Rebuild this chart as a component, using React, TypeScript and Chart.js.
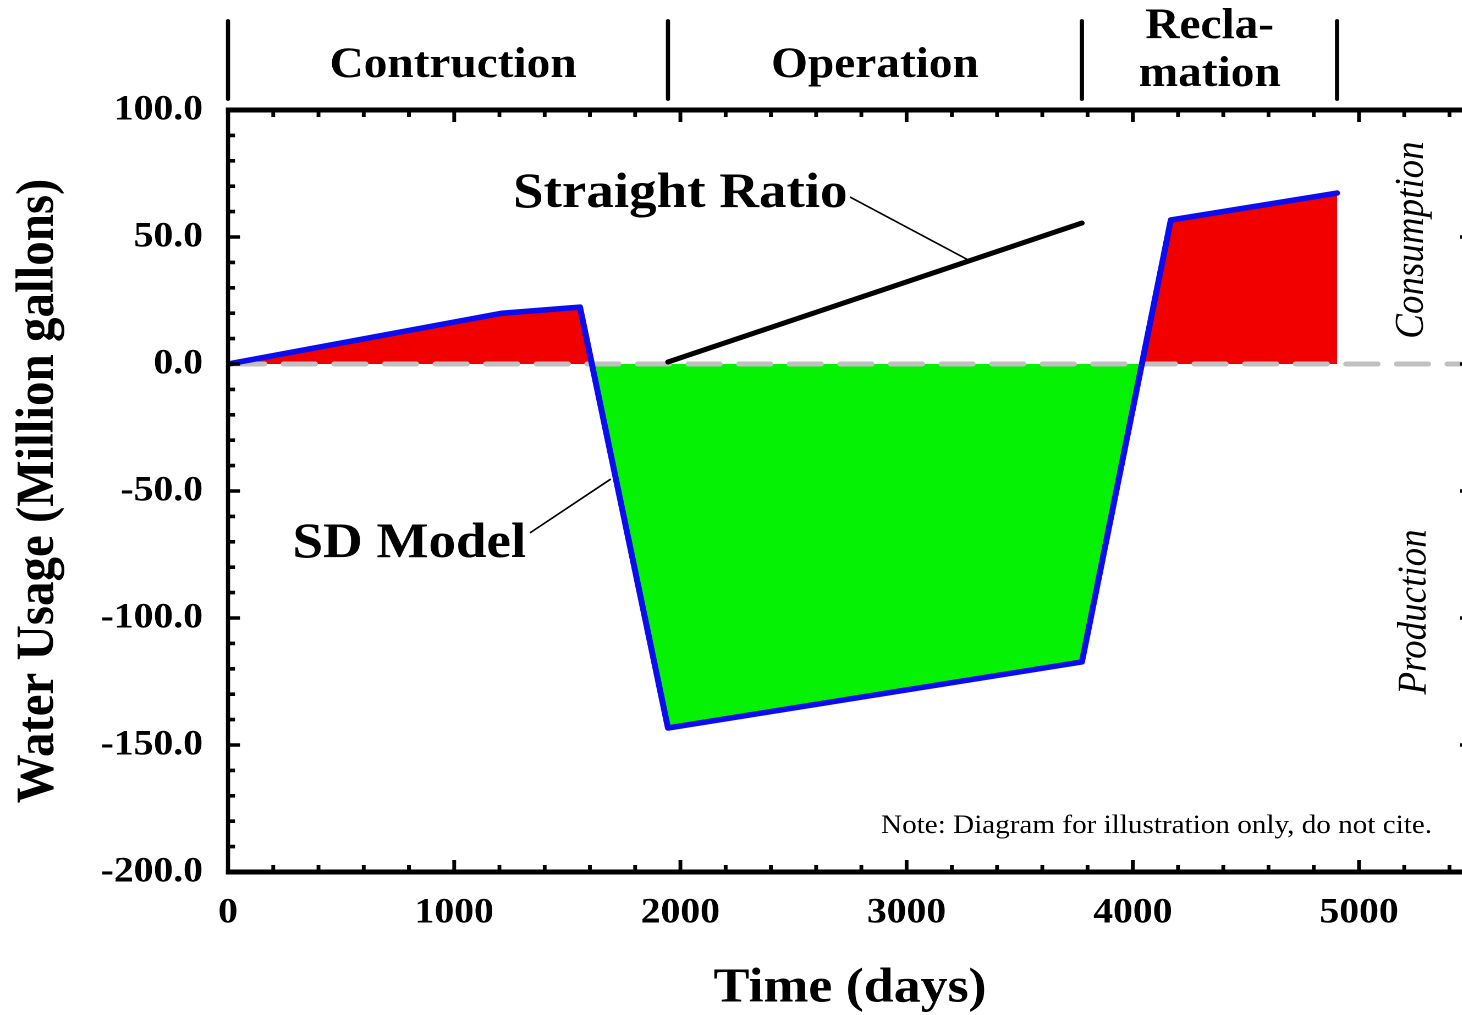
import React, { useEffect, useRef } from "react";
import { Chart, registerables } from "chart.js";

Chart.register(...registerables);

// ---------- data ----------
const sdDays = [0, 1211, 1556, 1945, 3775, 4168, 4903];
const sdUsage = [0, 20.0, 22.4, -143.3, -117.3, 56.7, 67.3];
const ratioDays = [1945, 3775];
const ratioUsage = [0.8, 55.5];
const zeroDays = [0, 5500];
const zeroUsage = [0, 0];
const xTickValues = [0, 1000, 2000, 3000, 4000, 5000];
const yTickValues = [-200, -150, -100, -50, 0, 50, 100];
const phaseBounds = [0, 1945, 3775, 4903];
const phaseCenters = [995, 2860, 4340];
const phaseLabels = [["Contruction"], ["Operation"], ["Recla-", "mation"]];

// ---------- layout (logical px; canvas is stretched horizontally by S) ----------
const S = 1.1;
const LW = 1370;
const LH = 1015;
const PLOT_LEFT = 228 / S;
const PLOT_RIGHT = (228 + 0.2262 * 5500) / S;
const FONT = '"Liberation Serif", "Times New Roman", serif';

const decorPlugin = {
  id: "decor",
  afterDraw(chart: any) {
    const { ctx, chartArea: ca, scales } = chart;
    const xs = scales.x;
    const ys = scales.y;
    const px = (v: number) => xs.getPixelForValue(v);
    const py = (v: number) => ys.getPixelForValue(v);
    const vW = 4.2 / S; // width of vertical strokes
    ctx.save();
    ctx.strokeStyle = "#000";
    ctx.fillStyle = "#000";

    // frame
    ctx.lineCap = "butt";
    ctx.lineWidth = 5;
    ctx.beginPath();
    ctx.moveTo(ca.left - vW / 2, ca.top);
    ctx.lineTo(ca.right + vW / 2, ca.top);
    ctx.moveTo(ca.left - vW / 2, ca.bottom);
    ctx.lineTo(ca.right + vW / 2, ca.bottom);
    ctx.stroke();
    ctx.lineWidth = vW;
    ctx.beginPath();
    ctx.moveTo(ca.left, ca.top - 2.5);
    ctx.lineTo(ca.left, ca.bottom + 2.5);
    ctx.moveTo(ca.right, ca.top - 2.5);
    ctx.lineTo(ca.right, ca.bottom + 2.5);
    ctx.stroke();

    // x ticks (top & bottom, inward)
    ctx.lineWidth = 3.8 / S;
    ctx.beginPath();
    for (let v = 0; v <= 5500; v += 200) {
      const major = v % 1000 === 0;
      const len = major ? 12 : 7;
      const x = px(v);
      ctx.moveTo(x, ca.bottom);
      ctx.lineTo(x, ca.bottom - len);
      ctx.moveTo(x, ca.top);
      ctx.lineTo(x, ca.top + len);
    }
    ctx.stroke();
    // y ticks (left & right, inward)
    ctx.lineWidth = 3.6;
    ctx.beginPath();
    for (let v = -200; v <= 100; v += 10) {
      const major = v % 50 === 0;
      const len = (major ? 12 : 7) / S;
      const y = py(v);
      ctx.moveTo(ca.left, y);
      ctx.lineTo(ca.left + len, y);
      ctx.moveTo(ca.right, y);
      ctx.lineTo(ca.right - len, y);
    }
    ctx.stroke();

    // phase separators
    ctx.lineCap = "round";
    ctx.lineWidth = vW;
    ctx.beginPath();
    phaseBounds.forEach((b) => {
      const x = px(b);
      ctx.moveTo(x, 21);
      ctx.lineTo(x, 99);
    });
    ctx.stroke();

    // phase labels
    ctx.font = `bold 43px ${FONT}`;
    ctx.textAlign = "center";
    ctx.textBaseline = "alphabetic";
    phaseLabels.forEach((lines, i) => {
      const cx = px(phaseCenters[i]);
      if (lines.length === 1) {
        ctx.fillText(lines[0], cx, 77);
      } else {
        ctx.fillText(lines[0], cx, 38);
        ctx.fillText(lines[1], cx, 86);
      }
    });

    // annotations
    ctx.font = `bold 50px ${FONT}`;
    ctx.textAlign = "left";
    ctx.fillText("Straight Ratio", px(1260), py(61.8));
    ctx.fillText("SD Model", px(285), py(-76));
    ctx.lineWidth = 1.6;
    ctx.lineCap = "butt";
    ctx.beginPath();
    ctx.moveTo(px(2750), py(65.7));
    ctx.lineTo(px(3267), py(41.2));
    ctx.moveTo(px(1335), py(-66.5));
    ctx.lineTo(px(1692), py(-45.3));
    ctx.stroke();

    // note
    ctx.font = `26.5px ${FONT}`;
    ctx.textAlign = "right";
    ctx.fillText("Note: Diagram for illustration only, do not cite.", px(5323), py(-184.6));

    // side labels
    ctx.font = `italic 37px ${FONT}`;
    ctx.textAlign = "center";
    ctx.textBaseline = "middle";
    const side = (t: string, v: number, u: number) => {
      ctx.save();
      ctx.translate(px(v), py(u));
      ctx.rotate(-Math.PI / 2);
      ctx.fillText(t, 0, 0);
      ctx.restore();
    };
    side("Consumption", 5234, 48.8);
    side("Production", 5248, -97.6);

    ctx.restore();
  },
};

export default function App() {
  const ref = useRef<HTMLCanvasElement>(null);
  useEffect(() => {
    const toPts = (xs: number[], ys: number[]) => xs.map((x, i) => ({ x, y: ys[i] }));
    const chart = new Chart(ref.current as HTMLCanvasElement, {
      type: "line",
      data: {
        datasets: [
          {
            label: "SD Model",
            data: toPts(sdDays, sdUsage),
            borderColor: "#0c0cf0",
            borderWidth: 5.5,
            borderJoinStyle: "round",
            borderCapStyle: "round",
            pointRadius: 0,
            tension: 0,
            fill: { target: { value: 0 }, above: "#f20000", below: "#05f205" },
            order: 0,
          } as any,
          {
            label: "Straight Ratio",
            data: toPts(ratioDays, ratioUsage),
            borderColor: "#000",
            borderWidth: 5,
            borderCapStyle: "round",
            pointRadius: 0,
            fill: false,
            order: 1,
          },
          {
            label: "zero",
            data: toPts(zeroDays, zeroUsage),
            borderColor: "#c0c0c0",
            borderWidth: 5,
            borderCapStyle: "round",
            borderDash: [28.8, 17.2],
            borderDashOffset: -4.4,
            pointRadius: 0,
            fill: false,
            order: 2,
          },
        ],
      },
      options: {
        responsive: true,
        maintainAspectRatio: false,
        animation: false,
        devicePixelRatio: 2,
        events: [],
        layout: { padding: { left: 0, top: 110, right: LW - PLOT_RIGHT, bottom: 0 } },
        plugins: {
          legend: { display: false },
          tooltip: { enabled: false },
          filler: { drawTime: "beforeDatasetsDraw" },
        } as any,
        scales: {
          x: {
            type: "linear",
            position: "bottom",
            min: 0,
            max: 5500,
            afterBuildTicks: (s: any) => {
              s.ticks = xTickValues.map((value) => ({ value }));
            },
            afterFit: (s: any) => {
              s.height = LH - 872;
            },
            grid: { display: false, drawTicks: false },
            border: { display: false },
            ticks: {
              color: "#000",
              font: { family: FONT, size: 36, weight: "bold" },
              padding: 19.5,
              maxRotation: 0,
              autoSkip: false,
              callback: (v: any) => String(v),
            },
            title: {
              display: true,
              text: "Time (days)",
              color: "#000",
              font: { family: FONT, size: 49, weight: "bold" },
              padding: { top: 0, bottom: -3 },
            },
          },
          y: {
            type: "linear",
            position: "left",
            min: -200,
            max: 100,
            afterBuildTicks: (s: any) => {
              s.ticks = yTickValues.map((value) => ({ value }));
            },
            afterFit: (s: any) => {
              s.width = PLOT_LEFT;
            },
            grid: { display: false, drawTicks: false },
            border: { display: false },
            ticks: {
              color: "#000",
              font: { family: FONT, size: 36, weight: "bold" },
              padding: 22.8,
              autoSkip: false,
              callback: (v: any) => Number(v).toFixed(1),
            },
            title: {
              display: true,
              text: "Water Usage (Million gallons)",
              color: "#000",
              font: { family: FONT, size: 49, weight: "bold" },
              padding: { top: 6, bottom: 0 },
            },
          },
        },
      },
      plugins: [decorPlugin],
    } as any);
    return () => chart.destroy();
  }, []);

  return (
    <div
      style={{
        position: "fixed",
        left: 0,
        top: 0,
        width: 1462,
        height: LH,
        overflow: "hidden",
        background: "#fff",
      }}
    >
      <div
        style={{
          position: "absolute",
          left: 0,
          top: 0,
          width: LW,
          height: LH,
          transform: `scaleX(${S})`,
          transformOrigin: "0 0",
        }}
      >
        <canvas ref={ref} />
      </div>
    </div>
  );
}
